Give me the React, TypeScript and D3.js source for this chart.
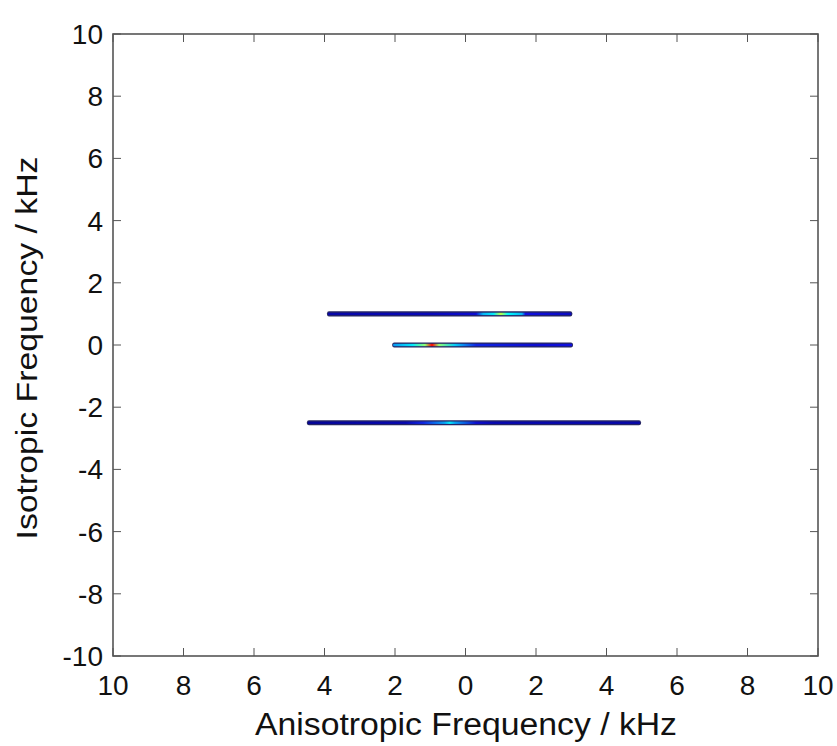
import React from 'react'
import * as d3 from 'd3'

// axis setup
const xDomain = [-10, 10]
const yDomain = [-10, 10]
const xTicks = [-10, -8, -6, -4, -2, 0, 2, 4, 6, 8, 10]
const yTicks = [-10, -8, -6, -4, -2, 0, 2, 4, 6, 8, 10]

// ridges: isotropic position and anisotropic extent (kHz)
const ridgeIso = [1, 0, -2.5]
const ridgeFrom = [-3.9, -2.05, -4.47]
const ridgeTo = [3.0, 3.02, 4.95]

// intensity profile along each ridge: [anisotropic kHz, relative intensity]
const ridge1Profile: [number, number][] = [
  [-3.9, 0.05], [-1.0, 0.07], [0.3, 0.1], [0.5, 0.28], [0.8, 0.33],
  [1.0, 0.55], [1.2, 0.35], [1.6, 0.28], [1.7, 0.12], [3.0, 0.08],
]
const ridge2Profile: [number, number][] = [
  [-2.05, 0.25], [-1.5, 0.33], [-1.15, 0.5], [-0.95, 0.85], [-0.75, 0.5],
  [-0.3, 0.3], [0.3, 0.14], [2.0, 0.1], [3.02, 0.12],
]
const ridge3Profile: [number, number][] = [
  [-4.47, 0.03], [-1.7, 0.06], [-1.2, 0.14], [-0.6, 0.26], [-0.45, 0.33],
  [-0.3, 0.26], [0.3, 0.1], [0.8, 0.06], [4.95, 0.05],
]
const profiles = [ridge1Profile, ridge2Profile, ridge3Profile]

const jet = d3
  .scaleLinear<string>()
  .domain([0, 0.12, 0.35, 0.62, 0.85, 1])
  .range(['#00007f', '#1010e0', '#00ffff', '#ffff00', '#ff0000', '#7f0000'])
  .clamp(true)

const W = 837
const H = 746
const margin = { left: 113, right: 19, top: 34, bottom: 90 }
const font = '"Liberation Sans", Arial, Helvetica, sans-serif'

const App = () => {
  const x = d3.scaleLinear().domain(xDomain).range([margin.left, W - margin.right])
  const y = d3.scaleLinear().domain(yDomain).range([H - margin.bottom, margin.top])
  const x0 = x(xDomain[0])
  const x1 = x(xDomain[1])
  const y0 = y(yDomain[0])
  const y1 = y(yDomain[1])
  const tick = 8
  const axisColor = '#555'

  return (
    <svg width={W} height={H} style={{ position: 'absolute', left: 0, top: 0 }}>
      <rect width={W} height={H} fill="#fff" />
      <defs>
        {profiles.map((p, i) => {
          const a = ridgeFrom[i]
          const b = ridgeTo[i]
          return (
            <linearGradient key={i} id={`ridge${i}`} x1="0" x2="1" y1="0" y2="0">
              {p.map(([k, v], j) => (
                <stop key={j} offset={(k - a) / (b - a)} stopColor={jet(v)} />
              ))}
            </linearGradient>
          )
        })}
      </defs>

      {/* ridges */}
      {ridgeIso.map((iso, i) => {
        const xa = x(ridgeFrom[i])
        const xb = x(ridgeTo[i])
        const yc = y(iso)
        return (
          <g key={i}>
            <rect x={xa - 1} y={yc - 2.6} width={xb - xa + 2} height={5.2} rx={2} fill="#00004a" opacity={0.85} />
            <rect x={xa} y={yc - 1.2} width={xb - xa} height={2.4} fill={`url(#ridge${i})`} />
          </g>
        )
      })}

      {/* frame */}
      <rect x={x0} y={y1} width={x1 - x0} height={y0 - y1} fill="none" stroke={axisColor} strokeWidth={1.6} />

      {/* x ticks */}
      {xTicks.map((t) => (
        <g key={`x${t}`}>
          <line x1={x(t)} x2={x(t)} y1={y0} y2={y0 - tick} stroke={axisColor} strokeWidth={1} />
          <line x1={x(t)} x2={x(t)} y1={y1} y2={y1 + tick} stroke={axisColor} strokeWidth={1} />
          <text x={x(t)} y={y0 + 39} textAnchor="middle" fontFamily={font} fontSize={28} fill="#111">
            {Math.abs(t)}
          </text>
        </g>
      ))}

      {/* y ticks */}
      {yTicks.map((t) => (
        <g key={`y${t}`}>
          <line x1={x0} x2={x0 + tick} y1={y(t)} y2={y(t)} stroke={axisColor} strokeWidth={1} />
          <line x1={x1} x2={x1 - tick} y1={y(t)} y2={y(t)} stroke={axisColor} strokeWidth={1} />
          <text x={x0 - 10} y={y(t)} dy="0.36em" textAnchor="end" fontFamily={font} fontSize={28} fill="#111">
            {t}
          </text>
        </g>
      ))}

      {/* axis labels */}
      <text
        x={466}
        y={735}
        textAnchor="middle"
        fontFamily={font}
        fontSize={31}
        textLength={422}
        lengthAdjust="spacingAndGlyphs"
        fill="#111"
      >
        Anisotropic Frequency / kHz
      </text>
      <text
        transform={`translate(37, 348) rotate(-90)`}
        textAnchor="middle"
        fontFamily={font}
        fontSize={30}
        textLength={383}
        lengthAdjust="spacingAndGlyphs"
        fill="#111"
      >
        Isotropic Frequency / kHz
      </text>
    </svg>
  )
}

export default App
